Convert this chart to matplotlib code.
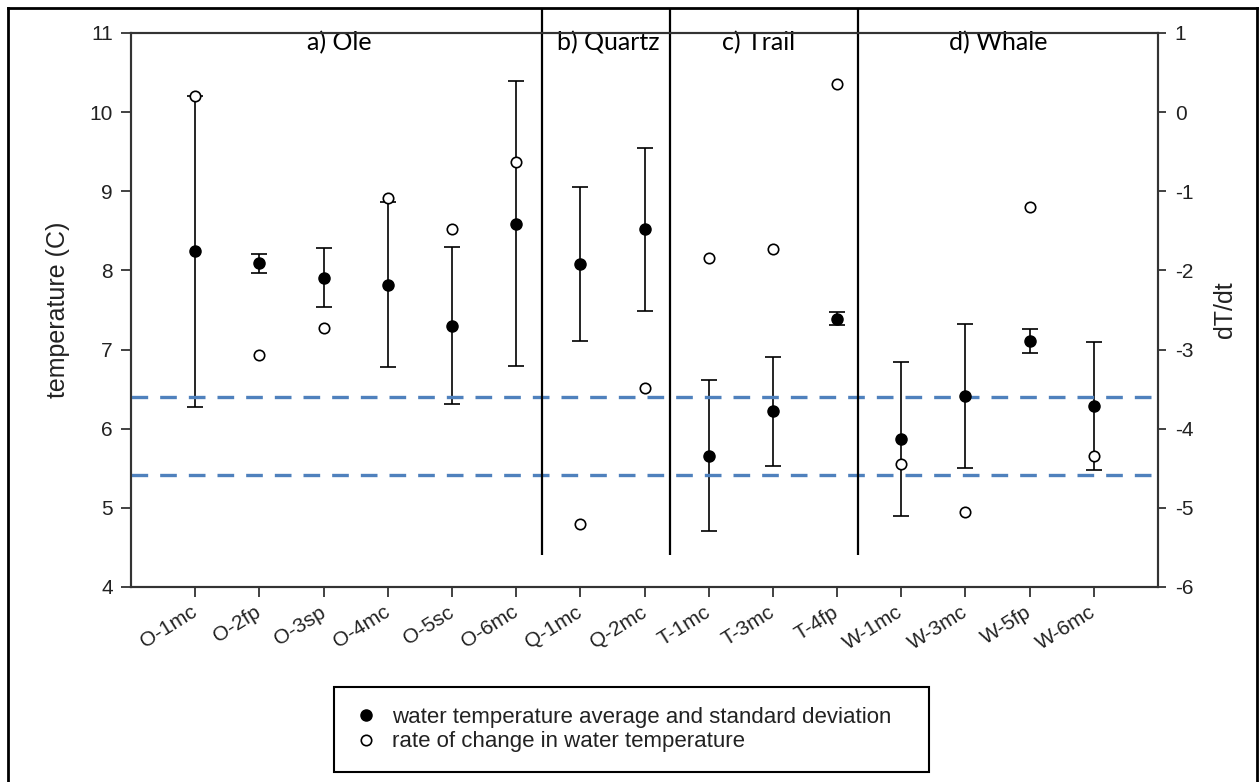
import matplotlib
matplotlib.use("Agg")
import matplotlib.pyplot as plt
from matplotlib.lines import Line2D
from matplotlib import rcParams

rcParams['font.family'] = 'Liberation Sans'
rcParams['axes.unicode_minus'] = False

# stream sites, grouped by creek
sites = ['O-1mc', 'O-2fp', 'O-3sp', 'O-4mc', 'O-5sc', 'O-6mc',
         'Q-1mc', 'Q-2mc',
         'T-1mc', 'T-3mc', 'T-4fp',
         'W-1mc', 'W-3mc', 'W-5fp', 'W-6mc']
temp_mean = [8.24, 8.09, 7.91, 7.82, 7.30, 8.59, 8.08, 8.52,
             5.66, 6.22, 7.39, 5.87, 6.41, 7.11, 6.29]
temp_sd = [1.97, 0.12, 0.37, 1.04, 0.99, 1.80, 0.97, 1.03,
           0.95, 0.69, 0.08, 0.97, 0.91, 0.15, 0.81]
rate = [0.21, -3.07, -2.73, -1.09, -1.48, -0.63, -5.20, -3.48,
        -1.84, -1.73, 0.36, -4.44, -5.05, -1.20, -4.35]

panels = ['a) Ole', 'b) Quartz', 'c) Trail', 'd) Whale']
ref_temps = [6.4, 5.42]

W, H = 1259, 782
fig = plt.figure(figsize=(W / 100, H / 100), dpi=100)
fig.patch.set_facecolor('white')

ax = fig.add_axes([131 / W, 1 - 587 / H, (1158 - 131) / W, (587 - 33) / H])
ax2 = ax.twinx()

x = list(range(1, len(sites) + 1))
axis_col = '#333333'
text_col = '#222222'

# temperature mean +/- sd
ax.errorbar(x, temp_mean, yerr=temp_sd, fmt='none', ecolor='black',
            elinewidth=1.2, capsize=5.5, capthick=1.2, zorder=2)
ax.plot(x, temp_mean, 'o', color='black', ms=8, zorder=4,
        label='water temperature average and standard deviation')

# reference temperatures
for t in ref_temps:
    ax.axhline(t, color='#4F81BD', lw=2.4, dashes=(5, 3.6), zorder=3)

# rate of change on the right axis
ax2.plot(x, rate, 'o', mfc='white', mec='black', mew=1.2, ms=7.5,
         zorder=4, label='rate of change in water temperature')

ax.set_xlim(0, 16)
ax.set_ylim(4, 11)
ax2.set_ylim(-6, 1)

ax.set_xticks(x)
ax.set_xticklabels(sites, rotation=32, ha='right', va='center',
                   rotation_mode='anchor', fontsize=15, color=text_col)
ax.set_yticks(range(4, 12))
ax2.set_yticks(range(-6, 2))
ax.tick_params(axis='y', labelsize=15, labelcolor=text_col, length=7,
               width=1.3, color=axis_col, pad=6)
ax2.tick_params(axis='y', labelsize=15, labelcolor=text_col, length=6,
                width=1.3, color=axis_col, pad=6)
ax.tick_params(axis='x', length=7, width=1.3, color=axis_col, pad=10)

for a in (ax, ax2):
    for s in a.spines.values():
        s.set_color(axis_col)
        s.set_linewidth(1.5)

ax.set_ylabel('temperature (C)', fontsize=18, color=text_col, labelpad=14)
ax2.set_ylabel('dT/dt', fontsize=18, color=text_col, labelpad=14)

# creek separators, running up to the page frame
seps = [6.40, 8.40, 11.33]
ax.vlines(seps, 4.41, 11.32, colors='black', lw=1.6, clip_on=False, zorder=5)

label_x = [3.24, 7.43, 9.77, 13.51]
for px, name in zip(label_x, panels):
    ax.text(px, 1.003, name, transform=ax.get_xaxis_transform(),
            ha='center', va='top', fontsize=18, family='Lato', color='black',
            zorder=6)

# page frame
frame_kw = dict(transform=fig.transFigure, color='black', lw=2)
fig.add_artist(Line2D([8 / W, 8 / W], [0, 1 - 8 / H], **frame_kw))
fig.add_artist(Line2D([8 / W, 1257 / W], [1 - 8 / H, 1 - 8 / H], **frame_kw))
fig.add_artist(Line2D([1257 / W, 1257 / W], [0, 1 - 8 / H], **frame_kw))

h1, l1 = ax.get_legend_handles_labels()
h2, l2 = ax2.get_legend_handles_labels()
leg = fig.legend(h1 + h2, l1 + l2, loc='upper left', mode='expand',
                 bbox_to_anchor=(334 / W, 1 - 687 / H, (929 - 334) / W, 0),
                 fontsize=16, frameon=True, fancybox=False, framealpha=1,
                 edgecolor='black', borderpad=0.9, labelspacing=0.15,
                 handlelength=1.1, handletextpad=0.6, borderaxespad=0)
leg.get_frame().set_linewidth(1.5)
for t in leg.get_texts():
    t.set_color(text_col)

fig.savefig('out.png', dpi=100, facecolor='white')
